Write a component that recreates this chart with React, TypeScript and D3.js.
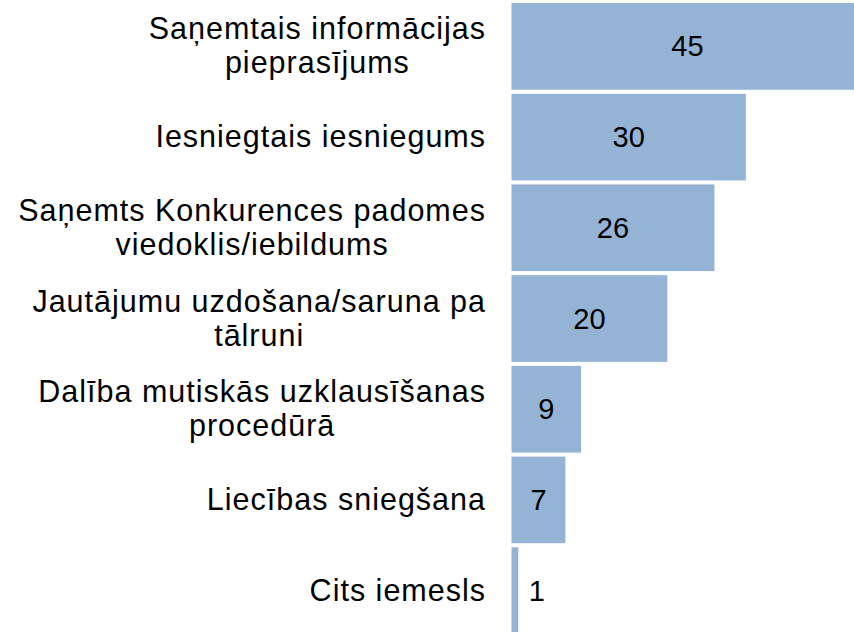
import * as d3 from 'd3';
import { useEffect, useRef } from 'react';

const categories = [
  ['Saņemtais informācijas', 'pieprasījums'],
  ['Iesniegtais iesniegums'],
  ['Saņemts Konkurences padomes', 'viedoklis/iebildums'],
  ['Jautājumu uzdošana/saruna pa', 'tālruni'],
  ['Dalība mutiskās uzklausīšanas', 'procedūrā'],
  ['Liecības sniegšana'],
  ['Cits iemesls'],
];
const values = [45, 30, 26, 20, 9, 7, 1];

const App = () => {
  const width = 854;
  const height = 632;
  const x0 = 511;
  const labelRight = 486;
  const fontSize = 30.5;

  const svgRef = useRef<SVGSVGElement>(null);

  useEffect(() => {
    const svg = d3.select(svgRef.current);
    svg.selectAll('*').remove();

    const keys = categories.map(c => c.join(' '));
    const xScale = d3.scaleLinear().domain([0, 45]).range([x0, x0 + 353]);
    const yScale = d3.scaleBand().domain(keys).range([2.5, 634.5]).paddingInner(0.033);

    const g = svg.append('g');
    g.selectAll('rect')
      .data(values)
      .join('rect')
      .attr('x', xScale(0))
      .attr('y', (d, i) => yScale(keys[i])!)
      .attr('width', d => xScale(d) - xScale(0))
      .attr('height', yScale.bandwidth())
      .attr('fill', '#95B3D5')
      .attr('stroke', '#ffffff')
      .attr('stroke-width', 1);

    // value labels, centered in the bar or past its end when too narrow
    g.selectAll('text.val')
      .data(values)
      .join('text')
      .attr('class', 'val')
      .attr('font-family', 'Liberation Sans, Arial, sans-serif')
      .attr('font-size', 29)
      .attr('fill', '#000')
      .attr('y', (d, i) => yScale(keys[i])! + yScale.bandwidth() / 2 + 10)
      .attr('x', d => {
        const w = xScale(d) - xScale(0);
        return w < 30 ? xScale(d) + 10 : (xScale(0) + xScale(d)) / 2;
      })
      .attr('text-anchor', d => (xScale(d) - xScale(0) < 30 ? 'start' : 'middle'))
      .text(d => d);

    // category labels, lines centred inside a right-aligned block
    categories.forEach((lines, i) => {
      const cy = yScale(keys[i])! + yScale.bandwidth() / 2;
      const lineH = 34;
      const texts = lines.map((line, j) =>
        g.append('text')
          .attr('font-family', 'Liberation Sans, Arial, sans-serif')
          .attr('font-size', fontSize)
          .attr('letter-spacing', 1)
          .attr('fill', '#000')
          .attr('text-anchor', 'middle')
          .attr('y', cy + (j - (lines.length - 1) / 2) * lineH + 10)
          .text(line)
      );
      const maxW = d3.max(texts, t => (t.node() as SVGTextElement).getComputedTextLength())!;
      texts.forEach(t => t.attr('x', labelRight - maxW / 2));
    });
  }, []);

  return (
    <svg
      ref={svgRef}
      width={width}
      height={height}
      viewBox={`0 0 ${width} ${height}`}
      style={{ position: 'absolute', left: 0, top: 0, background: '#fff', overflow: 'hidden' }}
    />
  );
};

export default App;
